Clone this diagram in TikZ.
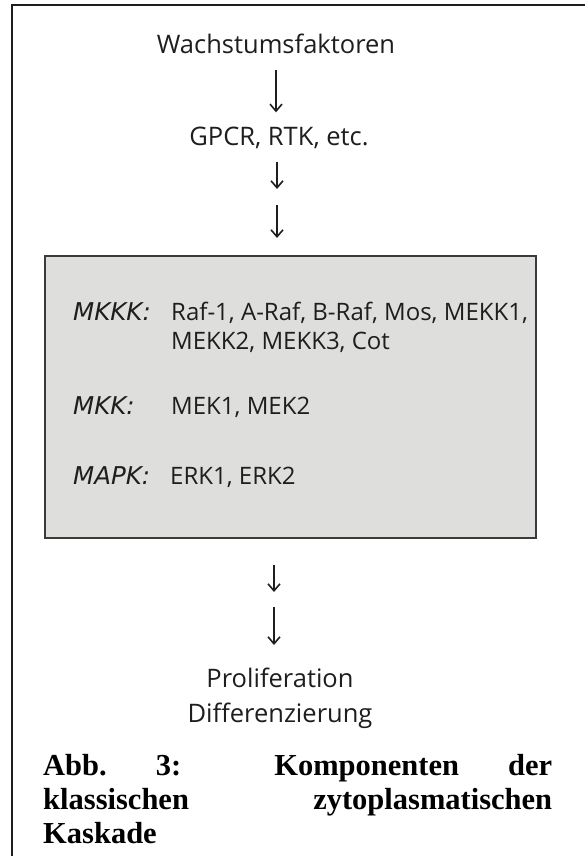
\documentclass[tikz,border=0pt]{standalone}
\usepackage{fontspec}
\setmainfont{Liberation Serif}
\setsansfont{Open Sans}
\newfontfamily\widesans{DejaVu Sans}
\usetikzlibrary{arrows.meta,positioning}
\definecolor{cascfill}{HTML}{DEDEDC}
\definecolor{cascline}{HTML}{3A3A3A}
\definecolor{ink}{HTML}{1E1E1E}

\tikzset{
  step label/.style={font=\sffamily\fontsize{25.5}{35}\selectfont, text=ink, inner sep=0pt, anchor=base},
  kinase/.style={font=\widesans\itshape\fontsize{24.5}{29}\selectfont, text=ink, inner sep=0pt, anchor=base west},
  member/.style={font=\sffamily\fontsize{24}{29}\selectfont, text=ink, inner sep=0pt, anchor=base west},
  flow/.style={-{Straight Barb[length=7pt,width=12pt,line width=1.6pt]}, line width=1.6pt, ink},
}

\begin{document}
\begin{tikzpicture}[x=1pt, y=-1pt]
  \useasboundingbox (0,0) rectangle (585,856);
  % frame
  \draw[line width=2pt, ink] (12,856) -- (12,5) -- (585,5);

  % upstream
  \node[step label] (wf) at (276,54) {Wachstumsfaktoren};
  \node[step label] (gpcr) at (279,146) {GPCR, RTK, etc.};
  \draw[flow, line width=1.8pt, shorten <=16pt, shorten >=15pt] (wf.south) -- (wf.south |- gpcr.north);
  \path (277,162) coordinate (r1) (277,189) coordinate (r1')
        (277,205) coordinate (r2) (277,238) coordinate (r2');
  \draw[flow] (r1) -- (r1');
  \draw[flow, line width=1.8pt] (r2) -- (r2');

  % the cascade
  \node[draw=cascline, fill=cascfill, line width=1.6pt, minimum width=491pt, minimum height=282pt,
        inner sep=0pt, anchor=north west] (casc) at (44,255) {};
  \foreach \n/\k/\y in {mkkk/MKKK/320, mkk/MKK/414, mapk/MAPK/484}{
    \node[kinase] (\n) at (73,\y) {\k:};
  }
  \node[member] (mkkk1) at (171,320) {Raf-1, A-Raf, B-Raf, Mos, MEKK1,};
  \node[member] (mkkk2) at (171,349) {MEKK2, MEKK3, Cot};
  \node[member] (mkk1) at (171,414) {MEK1, MEK2};
  \node[member] (mapk1) at (170,484) {ERK1, ERK2};

  % downstream
  \path (274,565) coordinate (r3) (274,592) coordinate (r3')
        (274,607) coordinate (r4) (274,645) coordinate (r4');
  \draw[flow] (r3) -- (r3');
  \draw[flow, line width=1.8pt] (r4) -- (r4');
  \node[step label, align=center, anchor=north] (out) at (280,668) {Proliferation\\Differenzierung};

  % caption
  \node[anchor=north west, inner sep=0pt, text width=509pt, align=justify,
        font=\bfseries\fontsize{30.5}{34}\selectfont] (cap) at (43,754)
        {Abb.\ 3: Komponenten der\linebreak klassischen zytoplasmatischen\linebreak Kaskade};
\end{tikzpicture}
\end{document}
